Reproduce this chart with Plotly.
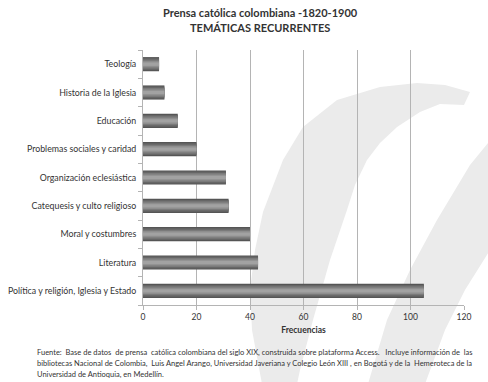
import plotly.graph_objects as go

categories = ["Política y religión, Iglesia y Estado", "Literatura", "Moral y costumbres",
              "Catequesis y culto religioso", "Organización eclesiástica",
              "Problemas sociales y caridad", "Educación", "Historia de la Iglesia", "Teología"]
values = [105, 43, 40, 32, 31, 20, 13, 8, 6]
x_ticks = [0, 20, 40, 60, 80, 100, 120]
title_lines = ["Prensa católica colombiana -1820-1900", "TEMÁTICAS RECURRENTES"]
source_lines = [
    "Fuente:  Base de datos  de prensa  católica colombiana del siglo XIX, construida sobre plataforma Access.   Incluye información de  las",
    "bibliotecas Nacional de Colombia,  Luis Angel Arango, Universidad Javeriana y Colegio León XIII , en Bogotá y de la  Hemeroteca de la",
    "Universidad de Antioquia, en Medellín.",
]

W, H = 488, 382
L, R, T, B = 143, 24, 50, 77
PW, PH = W - L - R, H - T - B

FONT = "Lato"
TXT = "#333333"

fig = go.Figure()

layers = [(0.50, "#555555"), (0.42, "#666666"), (0.32, "#7a7a7a"), (0.22, "#8e8e8e"), (0.12, "#a2a2a2")]
for w, c in layers:
    fig.add_trace(go.Bar(x=values, y=categories, orientation="h", width=w,
                         marker=dict(color=c, line=dict(width=0)), hoverinfo="skip",
                         showlegend=False))

def px_x(px):
    return (px - L) / PW

def px_y(py):
    return (H - B - py) / PH

def path_of(pts):
    s = "M %.4f,%.4f " % (px_x(pts[0][0]), px_y(pts[0][1]))
    for x, y in pts[1:]:
        s += "L %.4f,%.4f " % (px_x(x), px_y(y))
    return s + "Z"

left_stroke = [(262, 384), (252, 330), (250, 290), (255, 250), (263, 212), (283, 160), (303, 127),
               (337, 100), (380, 87), (417, 83), (445, 85), (470, 92), (464, 105), (440, 104),
               (420, 112), (397, 127), (380, 143), (367, 160), (355, 185), (347, 210), (330, 260),
               (313, 320), (300, 370), (297, 384)]
right_stroke = [(368, 384), (387, 320), (410, 270), (437, 220), (455, 190), (470, 165), (488, 143),
                (490, 143), (490, 250), (465, 290), (445, 330), (425, 384)]

shapes = []
for pts in (left_stroke, right_stroke):
    shapes.append(dict(type="path", xref="paper", yref="paper", path=path_of(pts),
                       fillcolor="#ebebeb", line=dict(width=0), layer="below"))

annotations = []
for i, t in enumerate(title_lines):
    annotations.append(dict(text="<b>%s</b>" % t, xref="paper", yref="paper",
                            x=px_x(260), y=px_y(12 + 15 * i), xanchor="center", yanchor="middle",
                            showarrow=False, font=dict(size=11, color=TXT, family=FONT)))
for i, t in enumerate(source_lines):
    annotations.append(dict(text=t, xref="paper", yref="paper",
                            x=px_x(35), y=px_y(352 + 11 * i), xanchor="left", yanchor="middle",
                            showarrow=False, font=dict(size=7.5, color=TXT, family=FONT)))

fig.update_layout(
    width=W, height=H,
    margin=dict(l=L, r=R, t=T, b=B, autoexpand=False),
    paper_bgcolor="white", plot_bgcolor="rgba(0,0,0,0)",
    barmode="overlay",
    shapes=shapes,
    annotations=annotations,
    font=dict(family=FONT, color=TXT),
    xaxis=dict(range=[0, 120], tickvals=x_ticks, ticktext=[str(v) for v in x_ticks],
               automargin=False,
               showgrid=True, gridcolor="#b4b4b4", gridwidth=1, zeroline=False,
               showline=True, linecolor="#b4b4b4", linewidth=1,
               ticks="outside", ticklen=4, tickcolor="#b4b4b4",
               tickfont=dict(size=8.5, color=TXT, family=FONT),
               title=dict(text="<b>Frecuencias</b>", font=dict(size=8.5, color=TXT, family=FONT), standoff=5)),
    yaxis=dict(type="category", categoryorder="array", categoryarray=categories,
               automargin=False,
               showline=True, linecolor="#b4b4b4", linewidth=1, showgrid=False,
               ticks="outside", ticklen=4, tickcolor="#b4b4b4", tickson="boundaries",
               tickfont=dict(size=8.8, color=TXT, family=FONT), ticklabelstandoff=4),
)

fig.write_html("out.html", config={"displayModeBar": False},
               post_script="document.body.style.margin='0px';document.body.style.overflow='hidden';")
